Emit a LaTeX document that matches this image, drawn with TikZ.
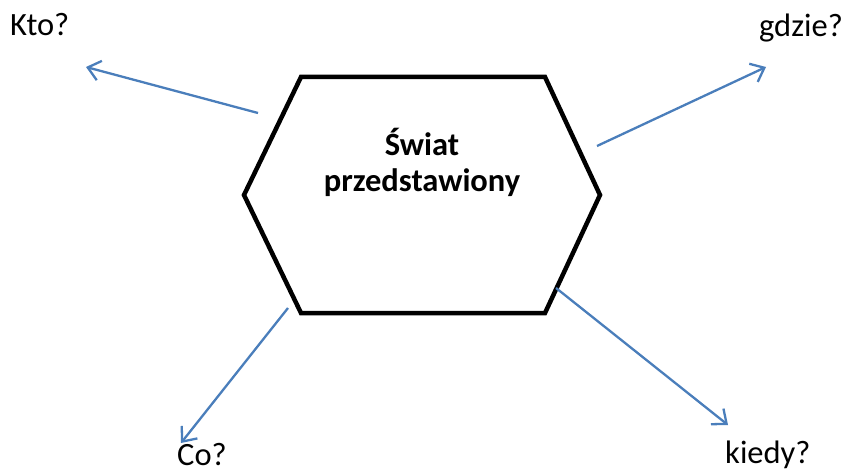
\documentclass[tikz,border=0pt]{standalone}
\usepackage{fontspec}
\setmainfont{Carlito}
\usetikzlibrary{arrows.meta}
\definecolor{arrowblue}{HTML}{4A7EBB}
\begin{document}
\begin{tikzpicture}[x=1pt,y=-1pt,
  hexline/.style={draw=black,line width=4.5pt,line join=miter},
  conn/.style={draw=arrowblue,line width=2.3pt,-{Straight Barb[length=12pt,width=20pt,line width=2.3pt]}},
  lbl/.style={inner sep=0pt,font=\fontsize{32.5}{37}\selectfont}
]
\useasboundingbox (0,0) rectangle (850,473);
% hexagon
\draw[hexline] (301,77) -- (545,77) -- (600,195) -- (545,313) -- (301,313) -- (244,195) -- cycle;
\node[lbl,font=\fontsize{32.5}{36}\selectfont\bfseries,align=center,anchor=center] (title) at (422,162) {Świat\\przedstawiony};
% labels
\node[lbl,anchor=base west] (kto) at (10,36) {Kto?};
\node[lbl,anchor=base east] (gdzie) at (843,37) {gdzie?};
\node[lbl,anchor=base west] (co) at (177,465) {Co?};
\node[lbl,anchor=base west] (kiedy) at (725,463) {kiedy?};
% connector ends
\coordinate (s1) at (258,113); \coordinate (t1) at (86,67);
\coordinate (s2) at (597,146); \coordinate (t2) at (766,67);
\coordinate (s3) at (288,308); \coordinate (t3) at (181,443);
\coordinate (s4) at (556,288); \coordinate (t4) at (728,425);
\draw[conn] (s1) -- (t1);
\draw[conn] (s2) -- (t2);
\draw[conn] (s3) -- (t3);
\draw[conn] (s4) -- (t4);
\end{tikzpicture}
\end{document}
